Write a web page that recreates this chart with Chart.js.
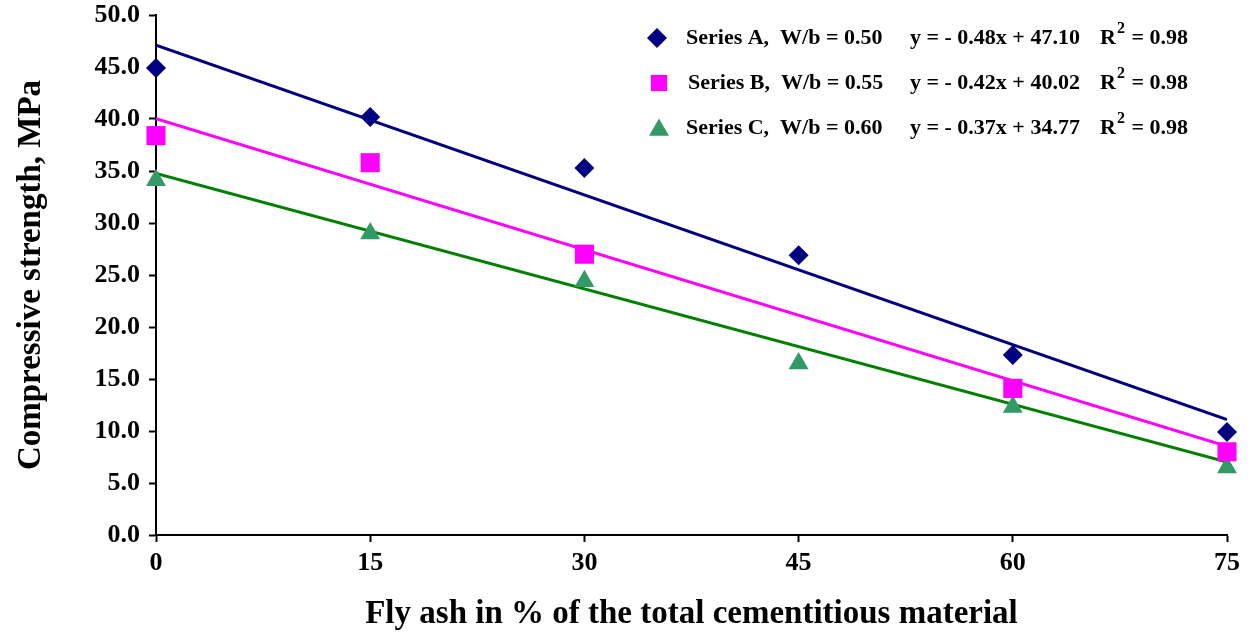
<!DOCTYPE html>
<html>
<head>
<meta charset="utf-8">
<script src="https://cdn.jsdelivr.net/npm/chart.js@4.4.1/dist/chart.umd.min.js"></script>
<style>
    html, body { margin: 0; padding: 0; background: #ffffff; }
    #chart-box { width: 1252px; height: 636px; }
</style>
</head>
<body>
<div id="chart-box"><canvas id="strengthChart" width="1252" height="636"></canvas></div>
<script>
// Số liệu
var flyAsh = [0, 15, 30, 45, 60, 75];
var seriesA = [44.9, 40.2, 35.3, 26.9, 17.3, 9.9];
var seriesB = [38.4, 35.8, 27.0, null, 14.1, 8.0];
var seriesC = [34.1, 29.0, 24.4, 16.5, 12.3, 6.5];
var seriesNames = ['Series A,  W/b = 0.50', 'Series B,  W/b = 0.55', 'Series C,  W/b = 0.60'];
var slopes = [-0.48, -0.42, -0.37];
var intercepts = [47.10, 40.02, 34.77];
var rSquared = ['0.98', '0.98', '0.98'];
var xTicks = [0, 15, 30, 45, 60, 75];
var yTicks = [0, 5, 10, 15, 20, 25, 30, 35, 40, 45, 50];

var FONT = '"Liberation Serif", "Times New Roman", serif';
var markerColors = ['#000080', '#FF00FF', '#339966'];
var lineColors = ['#000080', '#FF00FF', '#008000'];
var markerStyles = ['rectRot', 'rect', 'triangle'];
var markerRadius = [10, 13.5, 11.5];

function toPoints(values) {
    var pts = [];
    for (var i = 0; i < flyAsh.length; i++) {
        if (values[i] !== null) pts.push({ x: flyAsh[i], y: values[i] });
    }
    return pts;
}

function trendPoints(k) {
    var x0 = flyAsh[0], x1 = flyAsh[flyAsh.length - 1];
    return [{ x: x0, y: slopes[k] * x0 + intercepts[k] }, { x: x1, y: slopes[k] * x1 + intercepts[k] }];
}

function equationText(k) {
    var s = slopes[k] < 0 ? '- ' : '';
    return 'y = ' + s + Math.abs(slopes[k]).toFixed(2) + 'x + ' + intercepts[k].toFixed(2);
}

var datasets = [];
[seriesA, seriesB, seriesC].forEach(function (vals, k) {
    datasets.push({
        type: 'line',
        label: 'trend ' + k,
        data: trendPoints(k),
        borderColor: lineColors[k],
        borderWidth: 3,
        pointRadius: 0,
        fill: false,
        order: 2
    });
});
[seriesA, seriesB, seriesC].forEach(function (vals, k) {
    datasets.push({
        type: 'scatter',
        label: seriesNames[k],
        data: toPoints(vals),
        clip: false,
        pointStyle: markerStyles[k],
        pointRadius: markerRadius[k],
        pointBackgroundColor: markerColors[k],
        pointBorderColor: markerColors[k],
        pointBorderWidth: 0,
        order: 1
    });
});

// Chú thích kèm phương trình hồi quy, vẽ bên trong vùng đồ thị
var eqLegend = {
    id: 'eqLegend',
    afterDatasetsDraw: function (chart) {
        var ctx = chart.ctx;
        var rowY = [38, 83, 128];
        var markerX = [657, 659, 659];
        var nameX = [686, 688, 686];
        ctx.save();
        ctx.textBaseline = 'middle';
        for (var k = 0; k < 3; k++) {
            ctx.fillStyle = markerColors[k];
            ctx.strokeStyle = markerColors[k];
            Chart.helpers.drawPoint(ctx, {
                pointStyle: markerStyles[k],
                radius: markerRadius[k] * (k === 1 ? 0.85 : 1),
                borderWidth: 0,
                rotation: 0
            }, markerX[k], rowY[k] + (k === 2 ? 2 : 0));

            ctx.fillStyle = '#000';
            ctx.font = 'bold 22px ' + FONT;
            ctx.textAlign = 'left';
            ctx.fillText(seriesNames[k], nameX[k], rowY[k]);
            ctx.fillText(equationText(k), 910, rowY[k]);
            ctx.fillText('R', 1100, rowY[k]);
            var rw = ctx.measureText('R').width;
            ctx.font = 'bold 16px ' + FONT;
            ctx.fillText('2', 1100 + rw + 1, rowY[k] - 9);
            var sw = ctx.measureText('2').width;
            ctx.font = 'bold 22px ' + FONT;
            ctx.fillText(' = ' + rSquared[k], 1100 + rw + sw + 2, rowY[k]);
        }
        ctx.restore();
    }
};

new Chart(document.getElementById('strengthChart').getContext('2d'), {
    data: { datasets: datasets },
    plugins: [eqLegend],
    options: {
        responsive: false,
        animation: false,
        events: [],
        layout: { padding: { left: 0, top: 15, right: 25, bottom: 0 } },
        plugins: { legend: { display: false }, tooltip: { enabled: false } },
        scales: {
            x: {
                type: 'linear',
                min: 0,
                max: 75,
                afterBuildTicks: function (scale) {
                    scale.ticks = xTicks.map(function (v) { return { value: v }; });
                },
                afterFit: function (scale) {
                    scale.height = 101;
                    scale.paddingLeft = 0;
                    scale.paddingRight = 0;
                },
                grid: { drawOnChartArea: false, tickLength: 7, tickWidth: 2, tickColor: '#000' },
                border: { color: '#000', width: 2 },
                ticks: { color: '#000', padding: 6, maxRotation: 0, font: { family: FONT, size: 26, weight: 'bold' } },
                title: {
                    display: true,
                    text: 'Fly ash in % of the total cementitious material',
                    color: '#000',
                    padding: { top: 0, bottom: 2 },
                    font: { family: FONT, size: 33, weight: 'bold' }
                }
            },
            y: {
                type: 'linear',
                min: 0,
                max: 50,
                afterBuildTicks: function (scale) {
                    scale.ticks = yTicks.map(function (v) { return { value: v }; });
                },
                afterFit: function (scale) {
                    scale.width = 156;
                    scale.paddingTop = 0;
                    scale.paddingBottom = 0;
                },
                grid: { drawOnChartArea: false, tickLength: 7, tickWidth: 2, tickColor: '#000' },
                border: { color: '#000', width: 2 },
                ticks: {
                    color: '#000',
                    padding: 9,
                    font: { family: FONT, size: 26, weight: 'bold' },
                    callback: function (v) { return Number(v).toFixed(1); }
                },
                title: {
                    display: true,
                    text: 'Compressive strength, MPa',
                    color: '#000',
                    padding: { top: 12, bottom: 0 },
                    font: { family: FONT, size: 33, weight: 'bold' }
                }
            }
        }
    }
});
</script>
</body>
</html>
